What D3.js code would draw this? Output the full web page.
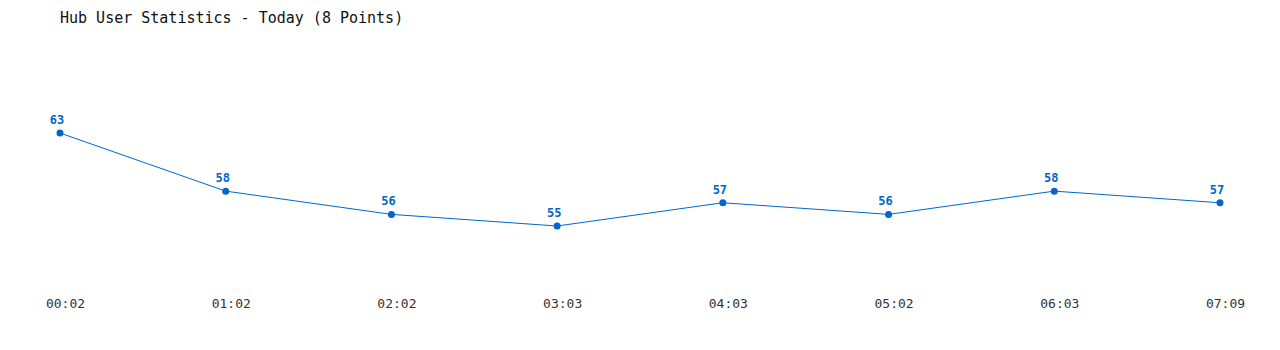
<!DOCTYPE html>
<html>
<head>
<meta charset="utf-8">
<script src="https://cdn.jsdelivr.net/npm/d3@7"></script>
<style>
  body { margin: 0; background: #fff; }
  svg text { font-family: "DejaVu Sans Mono", monospace; }
</style>
</head>
<body>
<svg width="1280" height="350"></svg>
<script>
var times = ['00:02', '01:02', '02:02', '03:03', '04:03', '05:02', '06:03', '07:09'];
var users = [63, 58, 56, 55, 57, 56, 58, 57];
var title = 'Hub User Statistics - Today (8 Points)';

var svg = d3.select('svg');
var lineColor = '#0066cc';

// x positions spread evenly across the page
var xScale = d3.scalePoint().domain(times).range([60, 1220]);
// y scale: 55 -> 226, 63 -> 133
var yScale = d3.scaleLinear().domain([55, 63]).range([226, 133]);

svg.append('text')
    .attr('x', 60)
    .attr('y', 23)
    .attr('font-size', 15)
    .attr('fill', '#111')
    .text(title);

var pts = times.map(function(t, i) { return {t: t, v: users[i]}; });

var line = d3.line()
    .x(function(d) { return xScale(d.t); })
    .y(function(d) { return yScale(d.v); });

svg.append('path')
    .datum(pts)
    .attr('d', line)
    .attr('fill', 'none')
    .attr('stroke', lineColor)
    .attr('stroke-width', 1);

svg.selectAll('.dot')
    .data(pts)
    .enter()
    .append('circle')
    .attr('class', 'dot')
    .attr('cx', function(d) { return xScale(d.t); })
    .attr('cy', function(d) { return yScale(d.v); })
    .attr('r', 3.5)
    .attr('fill', lineColor);

svg.selectAll('.val')
    .data(pts)
    .enter()
    .append('text')
    .attr('class', 'val')
    .attr('x', function(d) { return xScale(d.t) - 3; })
    .attr('y', function(d) { return yScale(d.v) - 9; })
    .attr('text-anchor', 'middle')
    .attr('font-size', 12)
    .attr('font-weight', 'bold')
    .attr('fill', lineColor)
    .text(function(d) { return d.v; });

// time labels along the bottom
var xAxis = d3.axisBottom(xScale).tickSize(0).tickPadding(0);
var axisG = svg.append('g')
    .attr('transform', 'translate(' + [5, 299] + ')')
    .call(xAxis);
axisG.select('.domain').remove();
axisG.selectAll('text')
    .attr('font-size', 13)
    .attr('fill', '#333')
    .attr('font-family', '"DejaVu Sans Mono", monospace');
</script>
</body>
</html>
